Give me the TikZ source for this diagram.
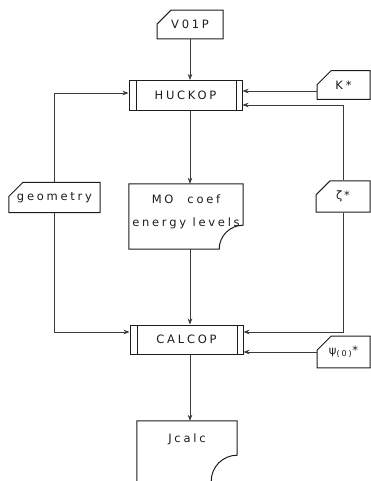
\documentclass[tikz,border=0pt]{standalone}
\usepackage{fontspec}
\newfontfamily\plotfont[LetterSpace=24]{DejaVu Sans}
\usetikzlibrary{positioning,arrows.meta,shapes.misc}
\definecolor{ink}{HTML}{1C1C1C}
\definecolor{wire}{HTML}{3A3A3A}
\tikzset{
  card/.style={chamfered rectangle, chamfered rectangle corners=north west,
    chamfered rectangle xsep=6pt, chamfered rectangle ysep=8pt, draw=ink, line width=1pt,
    minimum height=25pt, inner sep=2pt, text=ink,
    font=\plotfont\fontsize{11.5pt}{13pt}\selectfont},
  proc/.style={draw=ink, line width=1pt, minimum width=113pt, minimum height=30pt,
    text=ink, font=\plotfont\fontsize{11.5pt}{13pt}\selectfont,
    path picture={
      \draw[ink, line width=0.8pt] ([xshift=7pt]path picture bounding box.north west)
        -- ([xshift=7pt]path picture bounding box.south west);
      \draw[ink, line width=0.8pt] ([xshift=-6pt]path picture bounding box.north east)
        -- ([xshift=-6pt]path picture bounding box.south east);}},
  doc/.style={draw=none, align=center, inner sep=0pt, text=ink,
    font=\plotfont\fontsize{11.5pt}{23pt}\selectfont},
  docline/.style={draw=ink, line width=1pt},
  arr/.style={-{Stealth[length=6pt,width=4.5pt]}, line width=0.6pt, color=wire},
}
\begin{document}
\begin{tikzpicture}[x=1pt,y=-1pt]
  \useasboundingbox (0,0) rectangle (371,481);
  \node[card, minimum width=66pt] (v01p) at (190,24.5) {V01P};
  \node[proc] (huckop) at (185.5,95.5) {HUCKOP};
  \node[card, minimum width=53pt, minimum height=26pt] (kstar) at (343.5,85) {K*};
  \node[card, minimum width=87pt] (geometry) at (54.5,197.5) {geometry};
  \node[doc, minimum width=114pt, minimum height=65pt, text height=32pt, text depth=13pt]
    (mo) at (186,216.5) {MO\hspace{14pt}coef\\energy levels};
  \node[card, minimum width=54pt, minimum height=27pt] (zeta) at (343,196.5) {ζ\,*};
  \node[proc, minimum height=29pt] (calcop) at (186.5,339.5) {CALCOP};
  \node[card, minimum width=53pt, minimum height=26pt] (psi) at (343.5,352)
    {ψ\textsubscript{(0)}*};
  \node[doc, minimum width=100pt, minimum height=60pt, text height=9pt, text depth=26pt]
    (jcalc) at (187,451) {Jcalc};
  % document outlines with the torn corner
  \draw[docline] (mo.north west) -- (mo.north east) -- ([yshift=24pt]mo.south east)
    arc[start angle=90, end angle=180, radius=24pt] -- (mo.south west) -- cycle;
  \draw[docline] (jcalc.south west) -- (jcalc.north west) -- (jcalc.north east)
    -- ([yshift=26pt]jcalc.south east) arc[start angle=90, end angle=180, radius=26pt];
  \draw[arr] (v01p.south) -- (v01p.south |- huckop.north);
  \draw[arr] ([yshift=-6pt]kstar.west) -- ([yshift=-6pt]kstar.west -| huckop.east);
  \draw[arr] (zeta.north) |- ([yshift=-9.5pt]huckop.east);
  \draw[arr] (geometry.north) |- ([yshift=2.5pt]huckop.west);
  \draw[arr] (huckop.south -| v01p.south) -- (mo.north -| v01p.south);
  \draw[arr] (mo.south -| v01p.south) -- (calcop.north -| v01p.south);
  \draw[arr] (geometry.south) |- ([yshift=7.5pt]calcop.west);
  \draw[arr] (zeta.south) |- ([yshift=7.5pt]calcop.east);
  \draw[arr] (psi.west) -- (psi.west -| calcop.east);
  \draw[arr] (calcop.south -| v01p.south) -- (jcalc.north -| v01p.south);
\end{tikzpicture}
\end{document}
